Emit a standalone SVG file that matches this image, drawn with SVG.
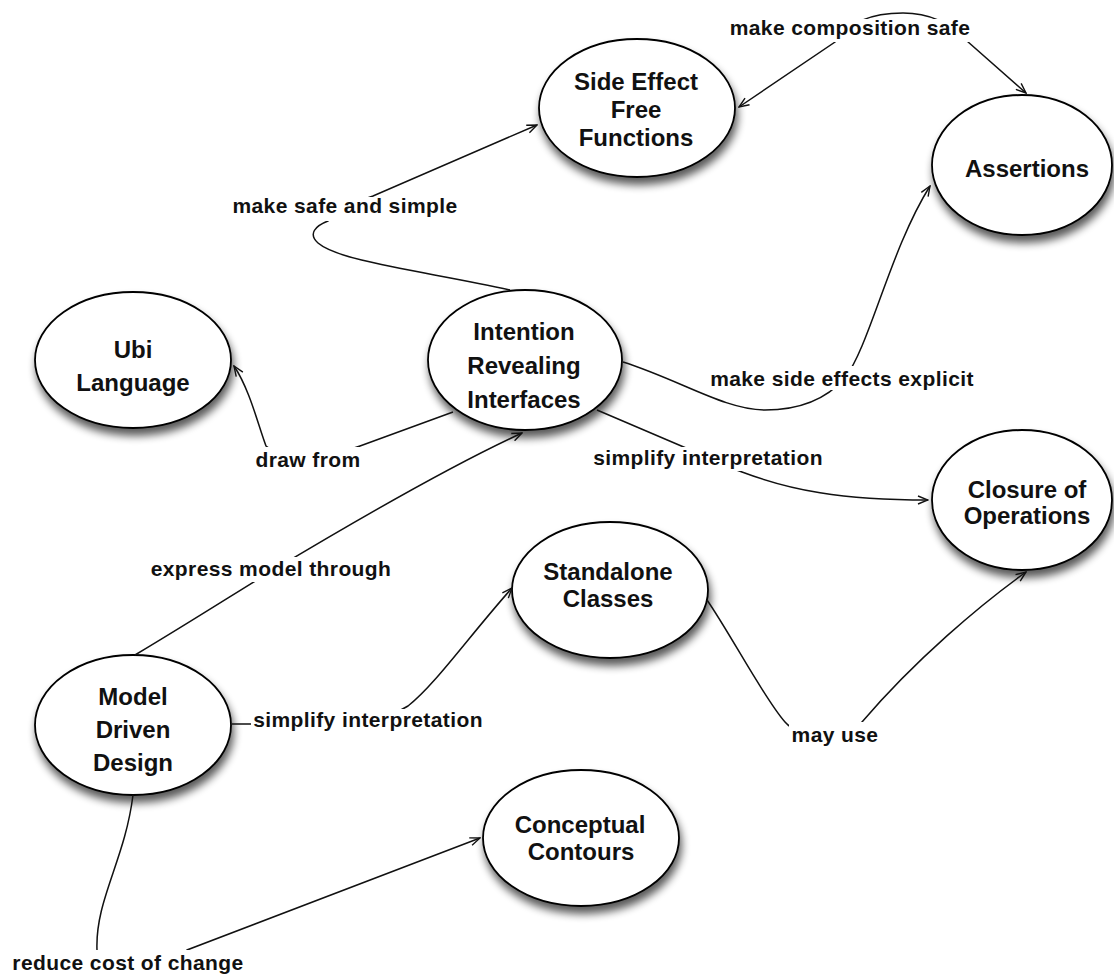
<svg xmlns="http://www.w3.org/2000/svg" width="1114" height="976" viewBox="0 0 1114 976">
<defs>
<style>
.node ellipse{fill:#fff;stroke:#000;stroke-width:1.8;filter:url(#sh)}
.node text{font-family:"Liberation Sans",Arial,Helvetica,sans-serif;font-weight:bold;font-size:24px;fill:#111;text-anchor:middle}
.conn path{fill:none;stroke:#111;stroke-width:1.5}
.conn rect{fill:#fff;stroke:none}
.conn text{font-family:"Liberation Sans",Arial,Helvetica,sans-serif;font-weight:bold;font-size:21px;letter-spacing:0.4px;fill:#111;text-anchor:middle}
</style>
<filter id="sh" x="-20%" y="-20%" width="145%" height="160%">
<feGaussianBlur in="SourceAlpha" stdDeviation="4.5"/>
<feOffset dx="2" dy="7"/>
<feComponentTransfer><feFuncA type="linear" slope="0.65"/></feComponentTransfer>
<feMerge><feMergeNode/><feMergeNode in="SourceGraphic"/></feMerge>
</filter>
<marker id="arr" viewBox="0 0 12 10" refX="11" refY="5" markerWidth="12" markerHeight="10" orient="auto-start-reverse" markerUnits="userSpaceOnUse">
<path d="M1,1 L11,5 L1,9" fill="none" stroke="#111" stroke-width="1.4"/>
</marker>
</defs>
<rect width="1114" height="976" fill="#fff"/>

<g id="node-side-effect-free-functions" class="node">
<ellipse cx="637" cy="108" rx="98" ry="69"/>
<text x="636" y="90">Side Effect</text>
<text x="636" y="118">Free</text>
<text x="636" y="146">Functions</text>
</g>
<g id="node-assertions" class="node">
<ellipse cx="1022" cy="165" rx="90" ry="70"/>
<text x="1027" y="177">Assertions</text>
</g>
<g id="node-ubi-language" class="node">
<ellipse cx="133" cy="360" rx="98" ry="68"/>
<text x="133" y="358">Ubi</text>
<text x="133" y="391">Language</text>
</g>
<g id="node-intention-revealing-interfaces" class="node">
<ellipse cx="525" cy="360" rx="97" ry="70"/>
<text x="524" y="340">Intention</text>
<text x="524" y="374">Revealing</text>
<text x="524" y="408">Interfaces</text>
</g>
<g id="node-closure-of-operations" class="node">
<ellipse cx="1022" cy="500" rx="90" ry="70"/>
<text x="1027" y="498">Closure of</text>
<text x="1027" y="524">Operations</text>
</g>
<g id="node-standalone-classes" class="node">
<ellipse cx="610" cy="590" rx="98" ry="68"/>
<text x="608" y="580">Standalone</text>
<text x="608" y="607">Classes</text>
</g>
<g id="node-model-driven-design" class="node">
<ellipse cx="133" cy="725" rx="98" ry="70"/>
<text x="133" y="705">Model</text>
<text x="133" y="738">Driven</text>
<text x="133" y="771">Design</text>
</g>
<g id="node-conceptual-contours" class="node">
<ellipse cx="581" cy="838" rx="98" ry="68"/>
<text x="580" y="833">Conceptual</text>
<text x="581" y="860">Contours</text>
</g>

<g id="connectors" class="conn">
<g id="c-make-composition-safe">
<path d="M739,107 L835,42 C850,20 875,13 903,13 C935,13 955,28 967,41 L1026,93" marker-start="url(#arr)" marker-end="url(#arr)"/>
<rect x="727" y="19" width="247" height="23"/>
<text x="850" y="35">make composition safe</text>
</g>
<g id="c-make-safe-and-simple">
<path d="M510,290 C430,272 340,262 318,243 C308,234 315,226 328,221 C340,212 360,200 373,196 L537,125" marker-end="url(#arr)"/>
<rect x="229" y="197" width="232" height="24"/>
<text x="345" y="213">make safe and simple</text>
</g>
<g id="c-draw-from">
<path d="M453,412 L360,446 C330,458 280,458 266,446 C258,425 250,390 234,366" marker-end="url(#arr)"/>
<rect x="253" y="447" width="110" height="26"/>
<text x="308" y="467">draw from</text>
</g>
<g id="c-make-side-effects-explicit">
<path d="M623,362 C680,380 725,410 765,410 C805,410 830,395 845,378 C870,345 890,250 930,186" marker-end="url(#arr)"/>
<rect x="708" y="366" width="269" height="24"/>
<text x="842" y="386">make side effects explicit</text>
</g>
<g id="c-simplify-interpretation-1">
<path d="M597,410 L686,448 C710,460 725,466 742,472 C790,490 840,500 928,500" marker-end="url(#arr)"/>
<rect x="591" y="447" width="235" height="24"/>
<text x="708" y="465">simplify interpretation</text>
</g>
<g id="c-express-model-through">
<path d="M135,655 C200,616 240,590 270,572 C360,518 450,466 522,433" marker-end="url(#arr)"/>
<rect x="148" y="557" width="246" height="25"/>
<text x="271" y="576">express model through</text>
</g>
<g id="c-simplify-interpretation-2">
<path d="M232,724 L330,724 C370,724 395,714 408,706 C435,685 470,635 512,588" marker-end="url(#arr)"/>
<rect x="251" y="709" width="235" height="25"/>
<text x="368" y="727">simplify interpretation</text>
</g>
<g id="c-may-use">
<path d="M707,600 C730,633 765,700 785,722 C800,740 850,740 862,722 C915,660 980,605 1026,572" marker-end="url(#arr)"/>
<rect x="789" y="722" width="92" height="28"/>
<text x="835" y="742">may use</text>
</g>
<g id="c-reduce-cost-of-change">
<path d="M133,795 C125,860 95,900 97,950 C98,965 170,965 187,950 L480,838" marker-end="url(#arr)"/>
<rect x="10" y="950" width="237" height="26"/>
<text x="128" y="970">reduce cost of change</text>
</g>
</g>
</svg>
